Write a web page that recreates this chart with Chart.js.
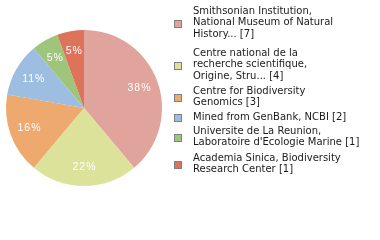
<!DOCTYPE html>
<html>
<head>
<meta charset="utf-8">
<script src="https://cdn.jsdelivr.net/npm/chart.js@4.4.1/dist/chart.umd.min.js"></script>
<style>
  html, body { margin: 0; padding: 0; background: #fff; }
  #wrap { width: 380px; height: 240px; }
</style>
</head>
<body>
<div id="wrap"><canvas id="pieChart" width="380" height="240"></canvas></div>
<script>
// Datos del gráfico
const etiquetas = [
    ['Smithsonian Institution,', 'National Museum of Natural', 'History... [7]'],
    ['Centre national de la', 'recherche scientifique,', 'Origine, Stru... [4]'],
    ['Centre for Biodiversity', 'Genomics [3]'],
    ['Mined from GenBank, NCBI [2]'],
    ['Universite de La Reunion,', "Laboratoire d'Ecologie Marine [1]"],
    ['Academia Sinica, Biodiversity', 'Research Center [1]']
];
const valores = [7, 4, 3, 2, 1, 1];
const colores = ['#e0a49c', '#dde29b', '#eeaa6e', '#9dbde1', '#9ec57a', '#dd735a'];

// Posición superior de cada entrada de la leyenda
const leyendaTop = [7, 49, 87, 113, 127, 154];
const FUENTE = '10px "DejaVu Sans", Verdana, sans-serif';
const ALTO_LINEA = 11.8;

// Porcentajes dentro de cada porción
const porcentajesPlugin = {
    id: 'porcentajes',
    afterDatasetsDraw(chart) {
        const ctx = chart.ctx;
        const total = valores.reduce((a, b) => a + b, 0);
        const meta = chart.getDatasetMeta(0);
        ctx.save();
        ctx.font = '10.5px "Liberation Sans", Arial, sans-serif';
        ctx.letterSpacing = '1px';
        ctx.fillStyle = '#ffffff';
        ctx.textAlign = 'center';
        ctx.textBaseline = 'middle';
        meta.data.forEach((arc, i) => {
            const mid = (arc.startAngle + arc.endAngle) / 2;
            const r = arc.outerRadius * 0.75;
            const x = arc.x + Math.cos(mid) * r;
            const y = arc.y + Math.sin(mid) * r;
            const pct = Math.floor(valores[i] / total * 100);
            ctx.fillText(pct + '%', x + 0.5, y + 0.5);
        });
        ctx.restore();
    }
};

// Leyenda dibujada a mano a la derecha
const leyendaPlugin = {
    id: 'leyendaLateral',
    afterDraw(chart) {
        const ctx = chart.ctx;
        ctx.save();
        ctx.font = FUENTE;
        ctx.textBaseline = 'top';
        ctx.textAlign = 'left';
        etiquetas.forEach((lineas, i) => {
            const top = leyendaTop[i];
            const centro = top + (lineas.length * ALTO_LINEA) / 2 - 1;
            ctx.fillStyle = colores[i];
            ctx.fillRect(174.5, Math.round(centro - 3.5) + 0.5, 7, 7);
            ctx.strokeStyle = '#808080';
            ctx.lineWidth = 1;
            ctx.strokeRect(174.5, Math.round(centro - 3.5) + 0.5, 7, 7);
            ctx.fillStyle = '#1a1a1a';
            lineas.forEach((linea, k) => {
                ctx.fillText(linea, 193, top + k * ALTO_LINEA - 1);
            });
        });
        ctx.restore();
    }
};

const ctx = document.getElementById('pieChart').getContext('2d');
const pieChart = new Chart(ctx, {
    type: 'pie',
    data: {
        labels: etiquetas.map(l => l.join(' ')),
        datasets: [{
            data: valores,
            backgroundColor: colores,
            borderWidth: 0
        }]
    },
    options: {
        responsive: false,
        animation: false,
        layout: {
            padding: { left: 6, top: 30, right: 218, bottom: 54 }
        },
        plugins: {
            legend: { display: false },
            tooltip: { enabled: false }
        }
    },
    plugins: [porcentajesPlugin, leyendaPlugin]
});
</script>
</body>
</html>
